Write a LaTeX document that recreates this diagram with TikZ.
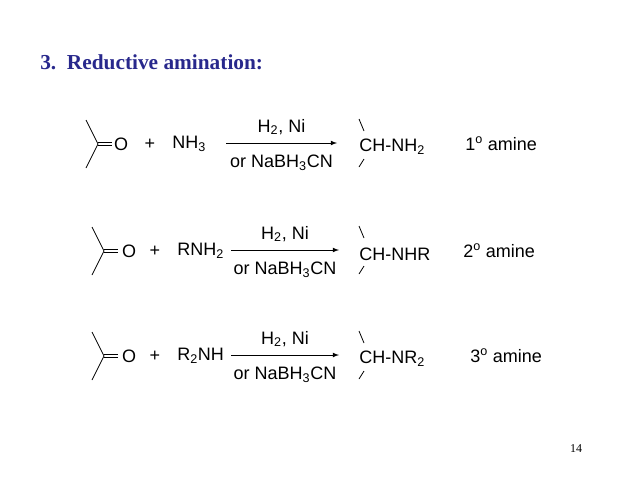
\documentclass[tikz,border=0pt]{standalone}
\usepackage{fontspec}
\setmainfont{Liberation Serif}
\newfontfamily\arialf{Liberation Sans}
\usetikzlibrary{calc}
\newcommand{\sbs}[1]{\textsubscript{#1}}
\definecolor{ttl}{RGB}{40,40,140}
\begin{document}
\begin{tikzpicture}[x=0.75pt,y=-0.75pt,
  t/.style={font=\arialf\fontsize{13.5}{16}\selectfont,inner sep=0pt},
  bond/.style={line width=0.6pt},
  arr/.style={line width=0.6pt,-latex}]
\useasboundingbox (0,0) rectangle (638,479);
\node[anchor=west,font=\bfseries\fontsize{16}{18}\selectfont,text=ttl,inner sep=0pt] (title) at (40,62) {3.\ \ Reductive amination:};
\node[font=\fontsize{9}{10}\selectfont,inner sep=0pt] (pg) at (576,449) {14};
\foreach \r/\cx/\y/\ox/\px/\rx/\reag/\ay/\ax/\bx/\prx/\pd/\lx/\lab in {
 1/98/144/121/150/172/NH\sbs{3}/143/226/337/359/CH-NH\sbs{2}/465/1,
 2/104/251/129/155/177/RNH\sbs{2}/250/231/339/359/CH-NHR/463/2,
 3/104/356/129/155/177/R\sbs{2}NH/355/231/339/359/CH-NR\sbs{2}/470/3}{
 \coordinate (c\r) at (\cx,\y);
 \draw[bond] (\cx-12,\y-24) -- (c\r) -- (\cx-12,\y+24);
 \draw[bond] (\cx,\y-1.5) -- (\cx+14,\y-1.5) (\cx,\y+1.5) -- (\cx+14,\y+1.5);
 \node[t] (o\r) at (\ox,\y) {O};
 \node[t] (p\r) at (\px,\y) {+};
 \node[t,anchor=west] (r\r) at (\rx,\y) {\reag};
 \coordinate (a\r) at (\ax,\ay); \coordinate (b\r) at (\bx,\ay);
 \draw[arr] (a\r) -- (b\r);
 \node[t] (h\r) at ({(\ax+\bx)/2},\ay-16) {H\sbs{2}, Ni};
 \node[t] (n\r) at ({(\ax+\bx)/2},\ay+20) {or NaBH\sbs{3}CN};
 \node[t,anchor=west] (pr\r) at (\prx,\y+3) {\pd};
 \draw[bond] ($(pr\r.west)+(0,-28)$) -- ++(5,12);
 \draw[bond] ($(pr\r.west)+(5,12)$) -- ++(-5,8);
 \node[t,anchor=west] (l\r) at (\lx,\y) {\lab\textsuperscript{o} amine};
}
\end{tikzpicture}
\end{document}
